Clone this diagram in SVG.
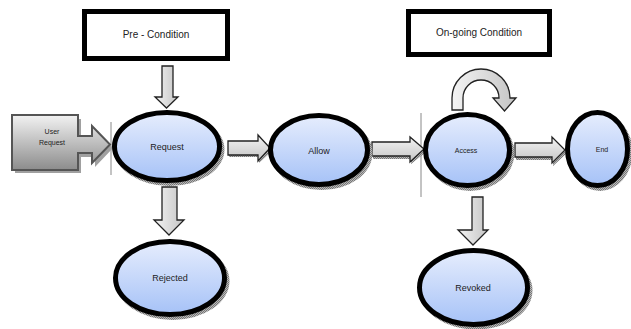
<svg xmlns="http://www.w3.org/2000/svg" width="631" height="329" viewBox="0 0 631 329">
<defs>
  <linearGradient id="gBlue" x1="0" y1="0" x2="0" y2="1">
    <stop offset="0" stop-color="#e6edfd"/>
    <stop offset="1" stop-color="#a6c2f7"/>
  </linearGradient>
  <linearGradient id="gArrowH" x1="0" y1="0" x2="0" y2="1">
    <stop offset="0" stop-color="#f4f4f4"/>
    <stop offset="1" stop-color="#c4c4c4"/>
  </linearGradient>
  <linearGradient id="gArrowV" x1="0" y1="0" x2="1" y2="0">
    <stop offset="0" stop-color="#f4f4f4"/>
    <stop offset="1" stop-color="#c4c4c4"/>
  </linearGradient>
  <linearGradient id="gUser" x1="0" y1="0" x2="0" y2="1">
    <stop offset="0" stop-color="#f2f2f2"/>
    <stop offset="1" stop-color="#8c8c8c"/>
  </linearGradient>
  <pattern id="hatch" width="2" height="2" patternUnits="userSpaceOnUse">
    <rect width="2" height="2" fill="#b8b8b8"/>
    <rect width="1" height="1" fill="#767676"/>
    <rect x="1" y="1" width="1" height="1" fill="#767676"/>
  </pattern>
</defs>
<style>
  .box { fill: #ffffff; stroke: #000000; stroke-width: 5; }
  .ell { fill: url(#gBlue); stroke: #000000; stroke-width: 5; }
  .shadow { fill: url(#hatch); }
  .arrH { fill: url(#gArrowH); stroke: #222222; stroke-width: 1.3; stroke-linejoin: miter; }
  .arrV { fill: url(#gArrowV); stroke: #222222; stroke-width: 1.3; stroke-linejoin: miter; }
  .ashadow { fill: url(#hatch); }
  .lbl { font-family: "Liberation Sans", Arial, sans-serif; fill: #222222; text-anchor: middle; }
  .vline { stroke: #6a6a6a; stroke-width: 0.8; }
</style>

<!-- decorative thin vertical lines -->
<line class="vline" x1="111" y1="122" x2="111" y2="175"/>
<line class="vline" x1="421" y1="113" x2="421" y2="197"/>

<g id="connectors">
  <!-- Pre-Condition -> Request -->
  <path class="arrV" d="M162 66 H173 V97 H178 L166.5 108 L155 97 H162 Z"/>
  <!-- Request -> Allow -->
  <path class="ashadow" d="M229 144 H259 V139 L272 151 L259 163 V157 H229 Z"/>
  <path class="arrH" d="M228 141 H258 V135 L270 148 L258 161 V155 H228 Z"/>
  <!-- Allow -> Access -->
  <path class="ashadow" d="M373 145 H411 V140 L426 152 L411 164 V159 H373 Z"/>
  <path class="arrH" d="M372 142 H410 V137 L424 149 L410 162 V156 H372 Z"/>
  <!-- Access -> End -->
  <path class="ashadow" d="M516 146 H553 V140 L567 153 L553 166 V160 H516 Z"/>
  <path class="arrH" d="M515 143 H552 V137 L565 150 L552 163 V157 H515 Z"/>
  <!-- Access self loop -->
  <path class="arrV" d="M452 110 V98 A29 29 0 0 1 510 98 H516 L504.5 111 L493 98 H499 A18 18 0 0 0 463 98 V110 Z"/>
  <!-- Request -> Rejected -->
  <path class="arrV" d="M162 187 H177 V220 H184 L169 235 L154 220 H162 Z"/>
  <!-- Access -> Revoked -->
  <path class="arrV" d="M472 197 H483 V230 H488 L473 245 L458 230 H472 Z"/>
</g>

<g id="pre-condition">
  <rect class="box" x="84.5" y="11.5" width="143" height="47"/>
  <text class="lbl" x="156" y="38" font-size="10">Pre - Condition</text>
</g>

<g id="ongoing-condition">
  <rect class="box" x="408.5" y="11.5" width="141" height="43"/>
  <text class="lbl" x="479" y="36" font-size="10">On-going Condition</text>
</g>

<g id="user-request">
  <path fill="#a0a0a0" d="M15 119 H81 V140 H95 V130 L113 148 L95 167 V157 H81 V173 H15 Z"/>
  <path fill="url(#gUser)" stroke="#555555" stroke-width="2" d="M12 115 H78 V136 H92 V126 L110 144.5 L92 163 V153 H78 V170 H12 Z"/>
  <text class="lbl" x="52" y="134" font-size="7">User</text>
  <text class="lbl" x="52" y="145" font-size="7">Request</text>
</g>

<g id="request">
  <ellipse class="shadow" cx="169.5" cy="149.5" rx="55" ry="36.5"/>
  <ellipse class="ell" cx="167" cy="146.5" rx="52.5" ry="34"/>
  <text class="lbl" x="167" y="149.5" font-size="9">Request</text>
</g>

<g id="allow">
  <ellipse class="shadow" cx="321.5" cy="153" rx="51" ry="37"/>
  <ellipse class="ell" cx="319" cy="150" rx="48.5" ry="34.5"/>
  <text class="lbl" x="319" y="154" font-size="9">Allow</text>
</g>

<g id="access">
  <ellipse class="shadow" cx="470" cy="153" rx="44.5" ry="38"/>
  <ellipse class="ell" cx="467.5" cy="150" rx="42" ry="35.5"/>
  <text class="lbl" x="466" y="153" font-size="7">Access</text>
</g>

<g id="end">
  <ellipse class="shadow" cx="600" cy="152" rx="32.5" ry="39"/>
  <ellipse class="ell" cx="597.5" cy="149" rx="30" ry="36.5"/>
  <text class="lbl" x="602" y="152" font-size="7">End</text>
</g>

<g id="rejected">
  <ellipse class="shadow" cx="172.5" cy="281" rx="57" ry="39"/>
  <ellipse class="ell" cx="170" cy="278" rx="54.5" ry="36.5"/>
  <text class="lbl" x="170" y="281" font-size="9">Rejected</text>
</g>

<g id="revoked">
  <ellipse class="shadow" cx="476" cy="290.5" rx="56.5" ry="39"/>
  <ellipse class="ell" cx="473.5" cy="287.5" rx="54" ry="37"/>
  <text class="lbl" x="473" y="290.5" font-size="9">Revoked</text>
</g>
</svg>
